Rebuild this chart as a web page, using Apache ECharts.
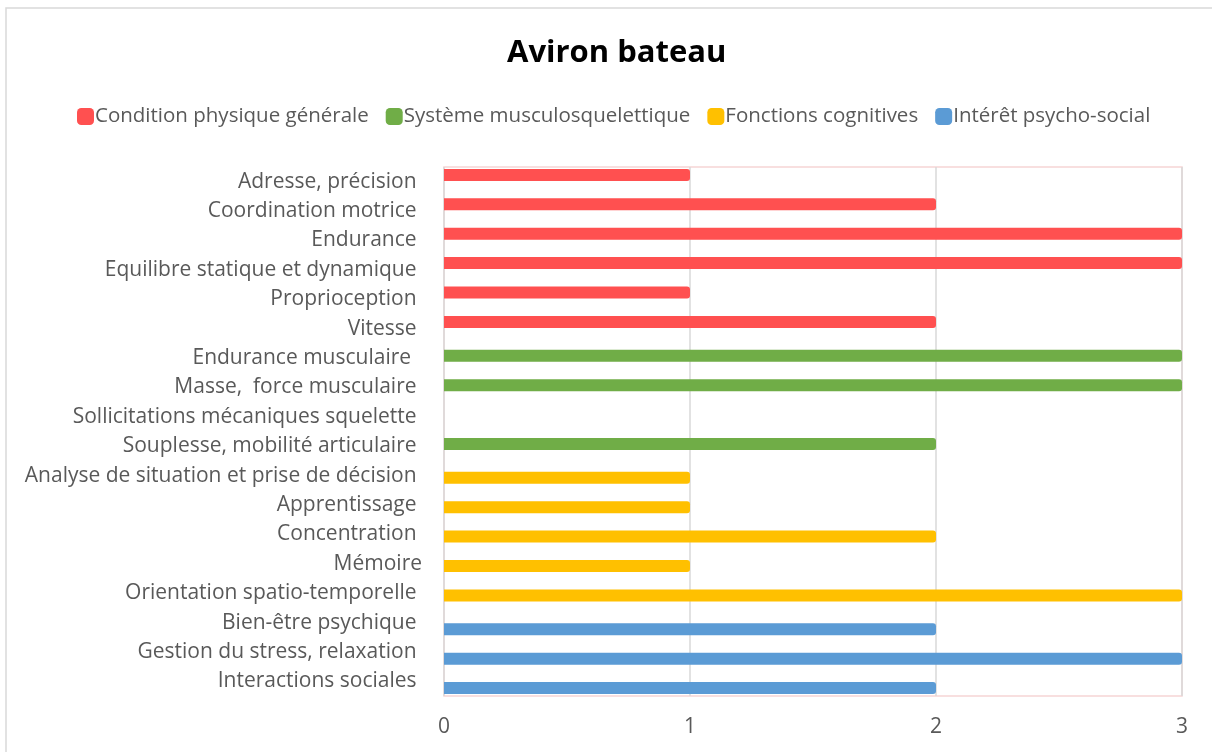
<!DOCTYPE html>
<html>
<head>
<meta charset="utf-8">
<script src="https://cdn.jsdelivr.net/npm/echarts@6/dist/echarts.min.js"></script>
<style>
html,body{margin:0;padding:0;background:#fff;}
#chart{width:1212px;height:752px;}
</style>
</head>
<body>
<div id="chart"></div>
<script>
const categories = [
  'Adresse, précision ', 'Coordination motrice ', 'Endurance ', 'Equilibre statique et dynamique ',
  'Proprioception ', 'Vitesse ', 'Endurance musculaire  ', 'Masse,  force musculaire ',
  'Sollicitations mécaniques squelette ', 'Souplesse, mobilité articulaire ',
  'Analyse de situation et prise de décision ', 'Apprentissage ', 'Concentration ', 'Mémoire',
  'Orientation spatio-temporelle ', 'Bien-être psychique ', 'Gestion du stress, relaxation ',
  'Interactions sociales '
];
const seriesNames = ['Condition physique générale', 'Système musculosquelettique', 'Fonctions cognitives', 'Intérêt psycho-social'];
const conditionPhysique = [1, 2, 3, 3, 1, 2, null, null, null, null, null, null, null, null, null, null, null, null];
const systemeMusculo   = [null, null, null, null, null, null, 3, 3, null, 2, null, null, null, null, null, null, null, null];
const fonctionsCognit  = [null, null, null, null, null, null, null, null, null, null, 1, 1, 2, 1, 3, null, null, null];
const interetPsycho    = [null, null, null, null, null, null, null, null, null, null, null, null, null, null, null, 2, 3, 2];
const xTicks = [0, 1, 2, 3];
const colors = ['#ff5050', '#70ad47', '#ffc000', '#5b9bd5'];

const FONT = 'Open Sans';
const chart = echarts.init(document.getElementById('chart'), null, {renderer: 'canvas'});
const seriesData = [conditionPhysique, systemeMusculo, fonctionsCognit, interetPsycho];
chart.setOption({
  animation: false,
  color: colors,
  title: {
    text: 'Aviron bateau', left: 502, top: 33,
    textStyle: {fontFamily: FONT, fontSize: 31, fontWeight: 'bold', color: '#000'}
  },
  legend: {
    top: 101, left: 72, itemWidth: 17, itemHeight: 17, itemGap: 17,
    icon: 'roundRect',
    textStyle: {fontFamily: FONT, fontSize: 20.5, color: '#595959', padding: [0, 0, 0, -4]},
    data: seriesNames
  },
  grid: {left: 444, right: 30, top: 167, bottom: 56, show: true, borderColor: '#f6d5d5', borderWidth: 1.5},
  xAxis: {
    type: 'value', min: xTicks[0], max: xTicks[xTicks.length - 1], interval: 1,
    axisLine: {show: false}, axisTick: {show: false},
    splitLine: {lineStyle: {color: '#d9d9d9', width: 1.5}},
    axisLabel: {fontFamily: FONT, fontSize: 21, color: '#595959', margin: 21,
      formatter: v => xTicks.includes(v) ? String(v) : ''}
  },
  yAxis: {
    type: 'category', inverse: true, data: categories,
    axisLine: {show: false}, axisTick: {show: false},
    axisLabel: {fontFamily: FONT, fontSize: 21, color: '#595959', margin: 22, interval: 0, padding: [3, 0, 0, 0]}
  },
  series: seriesNames.map((name, i) => ({
    name, type: 'bar', data: seriesData[i], barWidth: 12, barGap: '-62.5%',
    itemStyle: {color: colors[i], borderRadius: [0, 3, 3, 0]}
  })),
  graphic: [{
    type: 'rect', shape: {x: 6, y: 8, width: 1230, height: 780},
    style: {fill: 'none', stroke: '#d9d9d9', lineWidth: 1.5}, silent: true
  }]
});
</script>
</body>
</html>
